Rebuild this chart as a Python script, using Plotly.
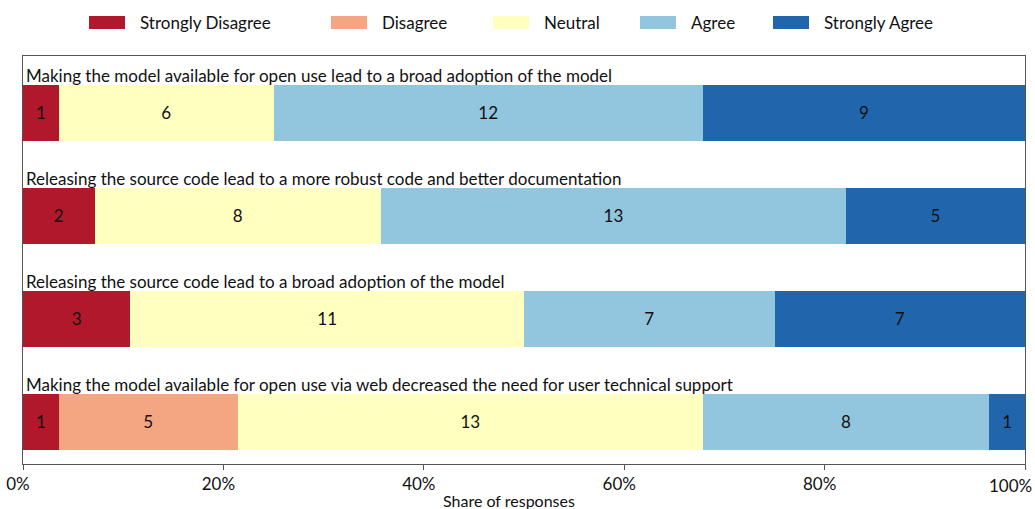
import plotly.graph_objects as go

# Survey statements (top to bottom) and response counts per Likert level
statements = [
    "Making the model available for open use lead to a broad adoption of the model",
    "Releasing the source code lead to a more robust code and better documentation",
    "Releasing the source code lead to a broad adoption of the model",
    "Making the model available for open use via web decreased the need for user technical support",
]
levels = ["Strongly Disagree", "Disagree", "Neutral", "Agree", "Strongly Agree"]
strongly_disagree = [1, 2, 3, 1]
disagree = [0, 0, 0, 5]
neutral = [6, 8, 11, 13]
agree = [12, 13, 7, 8]
strongly_agree = [9, 5, 7, 1]
tick_vals = [0, 0.2, 0.4, 0.6, 0.8, 1.0]
tick_text = ["0%", "20%", "40%", "60%", "80%", "100%"]
x_title = "Share of responses"

colors = ["#b2182b", "#f4a582", "#ffffbf", "#92c5de", "#2166ac"]
series = [strongly_disagree, disagree, neutral, agree, strongly_agree]

FONT = "Lato"
TXT = "#111111"
rows = list(range(len(statements)))
BAR_W = 0.55

fig = go.Figure()
for name, vals, col in zip(levels, series, colors):
    fig.add_trace(go.Bar(
        name=name,
        y=rows,
        x=vals,
        orientation="h",
        width=BAR_W,
        marker=dict(color=col, line=dict(width=0)),
        text=[str(v) if v else "" for v in vals],
        textposition="inside",
        insidetextanchor="middle",
        textfont=dict(color=TXT, size=17, family=FONT),
        showlegend=False,
        hoverinfo="skip",
    ))

annotations = []
for i, s in enumerate(statements):
    annotations.append(dict(
        x=0, xref="paper", xanchor="left", xshift=1,
        y=i - BAR_W / 2, yref="y", yanchor="bottom", yshift=-3,
        text=s, showarrow=False,
        font=dict(size=17, color=TXT, family=FONT),
    ))

# Last tick label sits flush with the right edge of the figure
annotations.append(dict(
    x=tick_vals[-1], xref="x", xanchor="right", xshift=9,
    y=0, yref="paper", yanchor="top", yshift=-9,
    text=tick_text[-1], showarrow=False,
    font=dict(size=17, color=TXT, family=FONT),
))
# Axis title, slightly left of centre along the bottom edge
annotations.append(dict(
    x=0.485, xref="paper", xanchor="center",
    y=0, yref="paper", yanchor="top", yshift=-25,
    text=x_title, showarrow=False,
    font=dict(size=16, color=TXT, family=FONT),
))

# Manual legend row above the plot
shapes = []
legend_x = [89, 331, 493, 640, 773]
for name, col, lx in zip(levels, colors, legend_x):
    shapes.append(dict(
        type="rect", xref="paper", yref="paper",
        x0=(lx - 23) / 1002, x1=(lx + 36 - 23) / 1002,
        y0=1 + (56 - 29) / 408, y1=1 + (56 - 16) / 408,
        fillcolor=col, line=dict(width=0),
    ))
    annotations.append(dict(
        x=(lx + 49 - 23) / 1002, xref="paper", xanchor="left",
        y=1 + (56 - 22.5) / 408, yref="paper", yanchor="middle",
        text=name, showarrow=False,
        font=dict(size=17, color=TXT, family=FONT),
    ))

fig.update_layout(
    barmode="stack",
    barnorm="fraction",
    width=1035, height=509,
    margin=dict(l=23, r=10, t=56, b=45),
    paper_bgcolor="white", plot_bgcolor="white",
    font=dict(family=FONT, size=16, color=TXT),
    annotations=annotations,
    shapes=shapes,
    uniformtext=dict(minsize=17, mode="show"),
)
fig.update_xaxes(
    range=[0, 1], tickvals=tick_vals,
    ticktext=tick_text[:-1] + [""],
    automargin=False, ticklabelshift=-5,
    showgrid=False, zeroline=False,
    showline=True, linecolor="#555555", linewidth=1, mirror=True,
    ticks="outside", ticklen=5, tickcolor="#555555",
    tickfont=dict(size=17, family=FONT, color=TXT),
)
fig.update_yaxes(
    range=[3.408, -0.553], automargin=False,
    showticklabels=False, showgrid=False, zeroline=False,
    showline=True, linecolor="#555555", linewidth=1, mirror=True,
    ticks="",
)

fig.write_html("out.html")
